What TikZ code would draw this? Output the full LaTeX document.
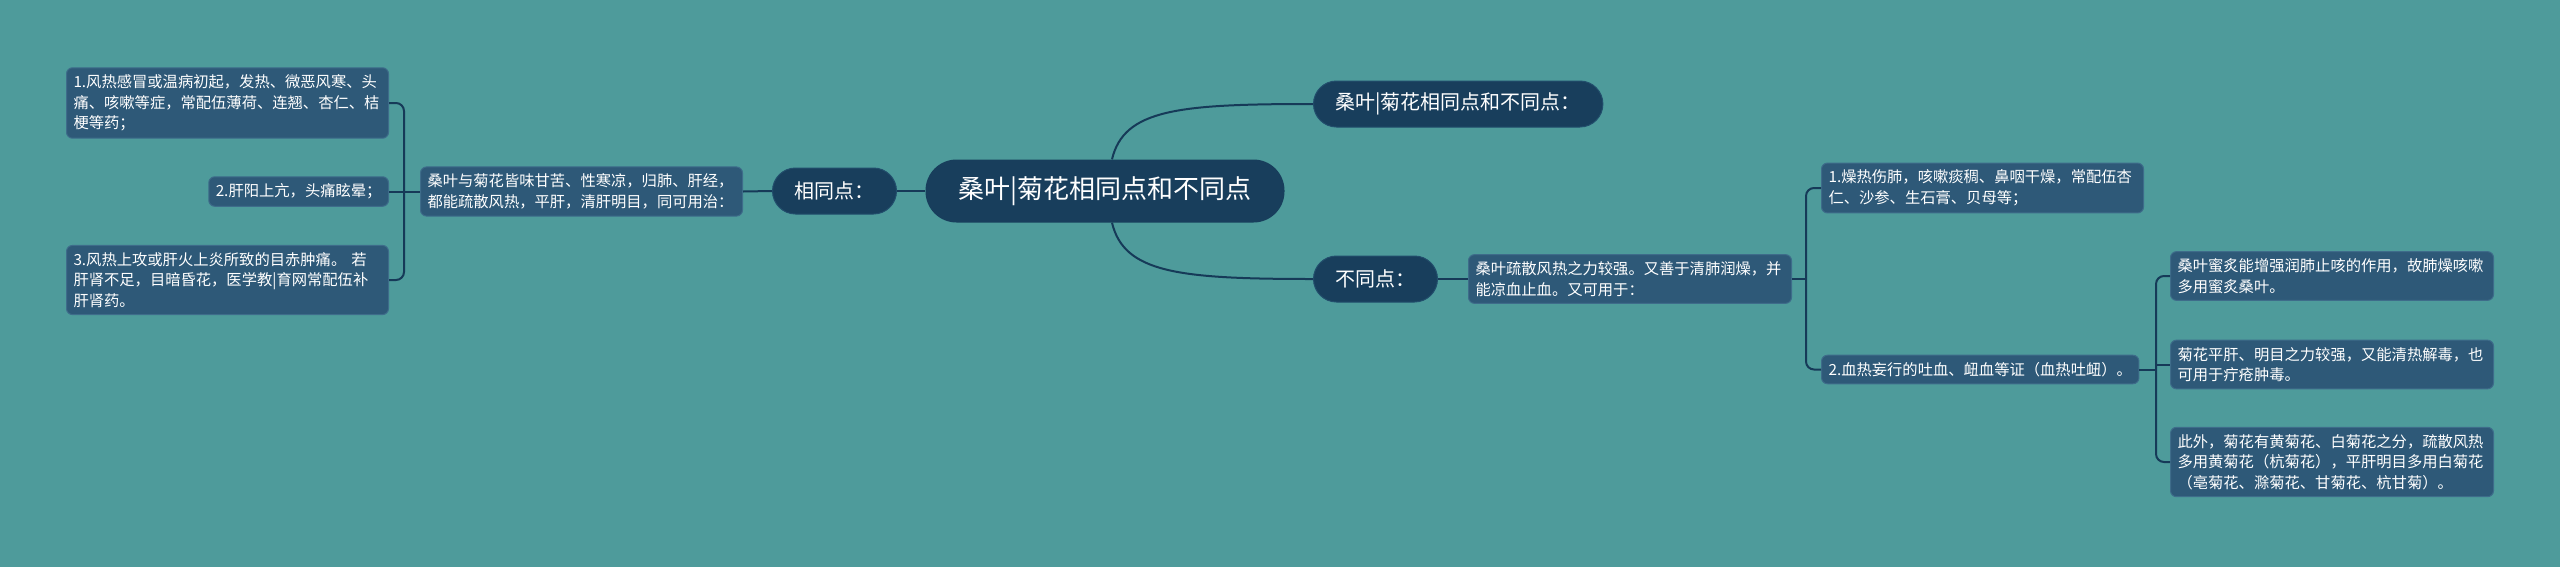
\documentclass[tikz,border=0pt]{standalone}
\usepackage{fontspec}
\usepackage{tikz}
\usetikzlibrary{positioning}
\newfontfamily\cjk{Noto Sans CJK SC}

\begin{document}
\begin{tikzpicture}[x=1pt, y=-1pt,
		link/.style={draw=LINE_BLUE, line width=2pt},
		rootnode/.style={fill=NAVY, text=WHITE, rounded corners=31pt, minimum height=63pt, minimum width=359pt, font=\cjk\fontsize{26}{30}\selectfont},
		branchnode/.style={fill=NAVY, draw=NAVY_EDGE, line width=1pt, text=WHITE, rounded corners=23pt, minimum height=46pt, inner xsep=22pt, font=\cjk\fontsize{20}{24}\selectfont},
		leafnode/.style={fill=SLATE, draw=SLATE_EDGE, line width=1pt, text=WHITE, rounded corners=6pt, inner xsep=7pt, inner ysep=7pt, align=left, font=\cjk\fontsize{15.3}{20.5}\selectfont}]
				\definecolor{WHITE}{RGB}{255, 255, 255}
				\definecolor{BG}{RGB}{78, 155, 155}
				\definecolor{NAVY}{RGB}{24, 62, 92}
				\definecolor{NAVY_EDGE}{RGB}{34, 78, 108}
				\definecolor{SLATE}{RGB}{46, 89, 120}
				\definecolor{SLATE_EDGE}{RGB}{62, 108, 138}
				\definecolor{LINE_BLUE}{RGB}{22, 58, 88}

				\useasboundingbox (0,0) rectangle (2560,566);
				\fill[BG] (-6,-6) rectangle (2566,572);

				% centre and first level
				\node[rootnode] (main) at (1105,191) {桑叶|菊花相同点和不同点};
				\node[branchnode, anchor=west] (top) at (1313,104) {桑叶|菊花相同点和不同点：};
				\node[branchnode, anchor=west] (diff) at (1313,279) {不同点：};
				\node[branchnode, anchor=east] (same) at (897,191) {相同点：};

				% left side
				\node[leafnode, anchor=east, text width=308pt] (sameText) at (743,191.5) {桑叶与菊花皆味甘苦、性寒凉，归肺、肝经，\\都能疏散风热，平肝，清肝明目，同可用治：};
				\node[leafnode, anchor=east, text width=308pt] (use1) at (389,103) {1.风热感冒或温病初起，发热、微恶风寒、头\\痛、咳嗽等症，常配伍薄荷、连翘、杏仁、桔\\梗等药；};
				\node[leafnode, anchor=east] (use2) at (389,191.5) {2.肝阳上亢，头痛眩晕；};
				\node[leafnode, anchor=east, text width=308pt] (use3) at (389,280) {3.风热上攻或肝火上炎所致的目赤肿痛。 若\\肝肾不足，目暗昏花，医学教|育网常配伍补\\肝肾药。};

				% right side
				\node[leafnode, anchor=west, text width=309pt] (diffText) at (1468,279) {桑叶疏散风热之力较强。又善于清肺润燥，并\\能凉血止血。又可用于：};
				\node[leafnode, anchor=west, text width=308pt] (sang1) at (1821,188) {1.燥热伤肺，咳嗽痰稠、鼻咽干燥，常配伍杏\\仁、沙参、生石膏、贝母等；};
				\node[leafnode, anchor=west] (sang2) at (1821,369.5) {2.血热妄行的吐血、衄血等证（血热吐衄）。};
				\node[leafnode, anchor=west, text width=309pt] (note1) at (2170,276) {桑叶蜜炙能增强润肺止咳的作用，故肺燥咳嗽\\多用蜜炙桑叶。};
				\node[leafnode, anchor=west, text width=309pt] (note2) at (2170,364.5) {菊花平肝、明目之力较强，又能清热解毒，也\\可用于疔疮肿毒。};
				\node[leafnode, anchor=west, text width=309pt] (note3) at (2170,462) {此外，菊花有黄菊花、白菊花之分，疏散风热\\多用黄菊花（杭菊花），平肝明目多用白菊花\\（亳菊花、滁菊花、甘菊花、杭甘菊）。};

				% forks
				\coordinate (leftFork) at (404,191.5);
				\coordinate (diffFork) at (1806,279);
				\coordinate (noteFork) at (2156,364.5);

				% connectors
				\draw[link] (main.west) -- (same.east);
				\draw[link] (same.west) -- (sameText.east);
				\draw[link] ([xshift=7pt]main.north) .. controls +(12,-50) and +(-135,0) .. (top.west);
				\draw[link] ([xshift=7pt]main.south) .. controls +(12,50) and +(-135,0) .. (diff.west);
				\draw[link] (sameText.west) -- (use2.east);
				\draw[link, rounded corners=8pt] (use1.east) -| (leftFork) |- (use3.east);
				\draw[link] (diff.east) -- (diffText.west);
				\draw[link] (diffText.east) -- (diffFork);
				\draw[link, rounded corners=8pt] (sang1.west) -| (diffFork) |- (sang2.west);
				\draw[link] (sang2.east) -- (sang2.east -| noteFork);
				\draw[link] (noteFork) -- (note2.west);
				\draw[link, rounded corners=8pt] (note1.west) -| (noteFork) |- (note3.west);
			\end{tikzpicture}
\end{document}
